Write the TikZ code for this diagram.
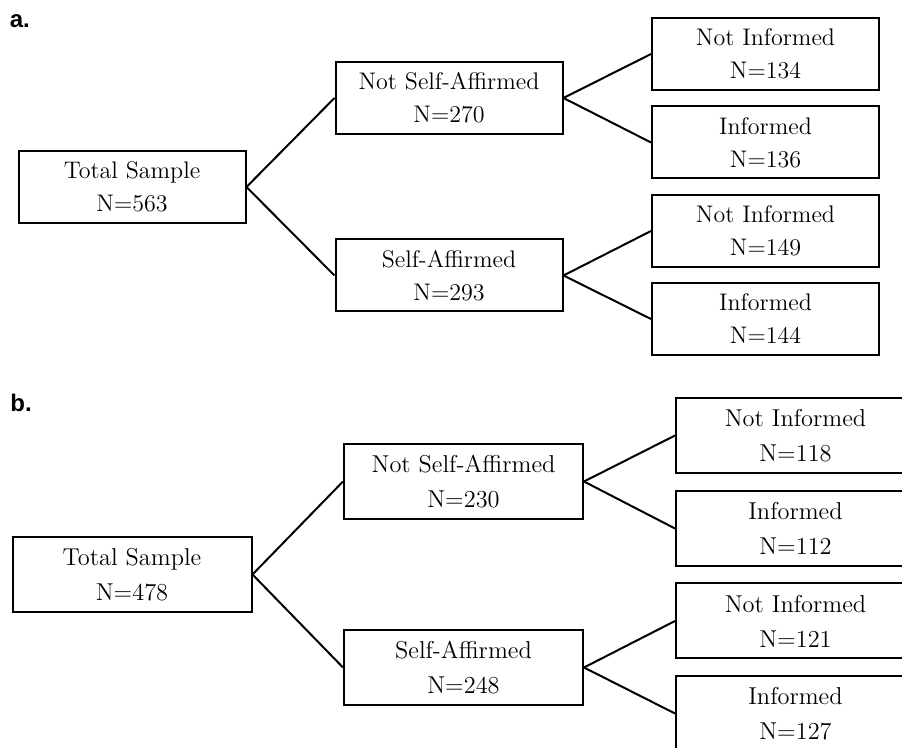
\documentclass[tikz,border=0pt]{standalone}
\usepackage{fontspec}
\newfontfamily\labfont{Liberation Sans}
\begin{document}
\begin{tikzpicture}[x=0.5pt,y=-0.5pt,
  boxa/.style={draw, line width=1pt, rectangle, inner sep=0pt, minimum width=113.5pt, minimum height=36pt, align=center, font=\fontsize{12}{16.5}\selectfont},
  boxb/.style={boxa, minimum width=119.5pt, minimum height=37.5pt, font=\fontsize{12.2}{17.5}\selectfont},
  conn/.style={line width=1pt},
  panellabel/.style={font=\labfont\bfseries\fontsize{12}{14}\selectfont, anchor=base west, inner sep=0pt}]
\useasboundingbox (0,0) rectangle (902,748);
\clip (0,0) rectangle (902,748);
% panel a
\node[panellabel] (la) at (9.5,28) {a.};
\node[boxa] (tsA) at (132,187) {Total Sample\\N=563};
\node[boxa] (nsaA) at (449,98) {Not Self-Affirmed\\N=270};
\node[boxa] (saA) at (449,275.5) {Self-Affirmed\\N=293};
\node[boxa] (niA1) at (765.5,54) {Not Informed\\N=134};
\node[boxa] (iA1) at (765.5,142.5) {Informed\\N=136};
\node[boxa] (niA2) at (765.5,231) {Not Informed\\N=149};
\node[boxa] (iA2) at (765.5,319) {Informed\\N=144};
\draw[conn] (tsA.east) -- (nsaA.west);
\draw[conn] (tsA.east) -- (saA.west);
\draw[conn] (nsaA.east) -- (niA1.west);
\draw[conn] (nsaA.east) -- (iA1.west);
\draw[conn] (saA.east) -- (niA2.west);
\draw[conn] (saA.east) -- (iA2.west);
% panel b
\node[panellabel] (lb) at (10,411.5) {b.};
\node[boxb] (tsB) at (132,574.5) {Total Sample\\N=478};
\node[boxb] (nsaB) at (463.5,481.5) {Not Self-Affirmed\\N=230};
\node[boxb] (saB) at (463.5,667.5) {Self-Affirmed\\N=248};
\node[boxb] (niB1) at (795.5,435.5) {Not Informed\\N=118};
\node[boxb] (iB1) at (795.5,528.5) {Informed\\N=112};
\node[boxb] (niB2) at (795.5,621) {Not Informed\\N=121};
\node[boxb] (iB2) at (795.5,713.5) {Informed\\N=127};
\draw[conn] (tsB.east) -- (nsaB.west);
\draw[conn] (tsB.east) -- (saB.west);
\draw[conn] (nsaB.east) -- (niB1.west);
\draw[conn] (nsaB.east) -- (iB1.west);
\draw[conn] (saB.east) -- (niB2.west);
\draw[conn] (saB.east) -- (iB2.west);
\end{tikzpicture}
\end{document}
